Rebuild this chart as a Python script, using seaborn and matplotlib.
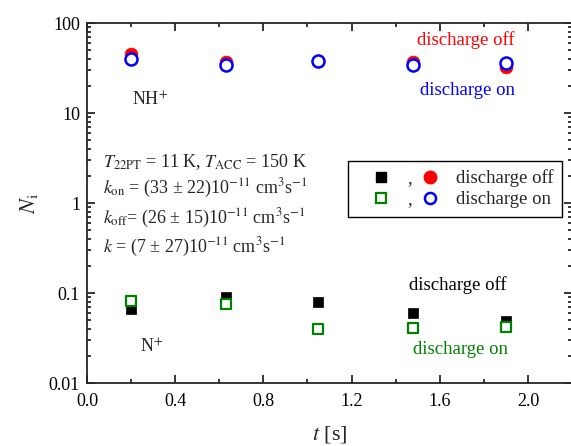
#!/usr/bin/env python3
# coding=utf-8
import matplotlib
matplotlib.use('Agg')
import matplotlib.pyplot as plt
import matplotlib.ticker as ticker
import numpy as np
import pandas as pd
import seaborn as sns

# storage times [s]
t = [0.2, 0.63, 1.05, 1.48, 1.9]

# NH+ counts
nh_off = [45.0, 37.0, 37.5, 36.8, 32.7]
nh_on = [39.5, 34.0, 38.0, 34.0, 36.0]

# N+ counts
n_off = [0.066, 0.091, 0.080, 0.060, 0.049]
n_on = [0.082, 0.075, 0.040, 0.041, 0.042]

x_ticks = [0.0, 0.4, 0.8, 1.2, 1.6, 2.0]
y_ticks = [0.01, 0.1, 1, 10, 100]
y_ticklabels = ['0.01', '0.1', '1', '10', '100']

info_lines = [
    r'$T_{\rm 22PT}$ = 11 K, $T_{\rm ACC}$ = 150 K',
    r'$k_{\rm on}$ = (33 ± 22)10$^{-11}$ cm$^{3}$s$^{-1}$',
    r'$k_{\rm off}$= (26 ± 15)10$^{-11}$ cm$^{3}$s$^{-1}$',
    r'$k$ = (7 ± 27)10$^{-11}$ cm$^{3}$s$^{-1}$',
]
info_y = [162, 188, 218, 247]


def make_plot(outfile):
    sns.set_style('ticks')
    plt.rcParams['font.family'] = ['Liberation Serif', 'DejaVu Serif']
    plt.rcParams['mathtext.fontset'] = 'stix'
    plt.rcParams['axes.linewidth'] = 1.3

    df = pd.DataFrame({'t': t, 'nh_off': nh_off, 'nh_on': nh_on,
                       'n_off': n_off, 'n_on': n_on})

    fig = plt.figure(figsize=(5.71, 4.46), dpi=100)
    ax = fig.add_axes([87 / 571, 63 / 446, 485 / 571, 360 / 446])

    sns.scatterplot(data=df, x='t', y='n_off', ax=ax, marker='s', s=60,
                    color='black', edgecolor='black', linewidth=0.5, zorder=3)
    sns.scatterplot(data=df, x='t', y='n_on', ax=ax, marker='s', s=50,
                    facecolor='white', edgecolor='green', linewidth=1.6, zorder=4)
    sns.scatterplot(data=df, x='t', y='nh_off', ax=ax, marker='o', s=85,
                    color='red', edgecolor='red', linewidth=0.5, zorder=3)
    sns.scatterplot(data=df, x='t', y='nh_on', ax=ax, marker='o', s=75,
                    facecolor='white', edgecolor='blue', linewidth=1.8, zorder=4)

    ax.set_yscale('log')
    ax.set_xlim(0, 2.2)
    ax.set_ylim(0.01, 100)
    ax.set_xticks(x_ticks)
    ax.set_xticklabels(['%.1f' % v for v in x_ticks])
    ax.xaxis.set_minor_locator(ticker.MultipleLocator(0.2))
    ax.set_yticks(y_ticks)
    ax.set_yticklabels(y_ticklabels)
    ax.yaxis.set_minor_locator(ticker.LogLocator(base=10, subs=np.arange(2, 10)))
    ax.yaxis.set_minor_formatter(ticker.NullFormatter())
    ax.tick_params(which='both', direction='in', top=True, right=True,
                   labelsize=13, width=1.1, colors='black')
    ax.tick_params(which='major', length=6)
    ax.tick_params(which='minor', length=3)
    ax.tick_params(axis='x', which='major', pad=7)
    ax.tick_params(axis='y', which='major', pad=5)

    ax.set_xlabel(r'$t$ [s]', fontsize=16, labelpad=10)
    ax.set_ylabel(r'$N_{\rm i}$', fontsize=16, labelpad=6)

    # species and condition labels
    ax.text(0.205, 14, r'NH$^{+}$', fontsize=13, ha='left', va='center')
    ax.text(0.24, 0.025, r'N$^{+}$', fontsize=13, ha='left', va='center')
    ax.text(1.72, 65, 'discharge off', color='red', fontsize=13.5, ha='center', va='center')
    ax.text(1.725, 18, 'discharge on', color='blue', fontsize=13.5, ha='center', va='center')
    ax.text(1.68, 0.123, 'discharge off', color='black', fontsize=13.5, ha='center', va='center')
    ax.text(1.695, 0.0235, 'discharge on', color='green', fontsize=13.5, ha='center', va='center')

    for line, yp in zip(info_lines, info_y):
        ax.text(16 / 485, (383 - yp) / 360, line,
                transform=ax.transAxes, fontsize=13, ha='left', va='center')

    sq_off = plt.Line2D([], [], ls='', marker='s', ms=7.5, mfc='black', mec='black')
    sq_on = plt.Line2D([], [], ls='', marker='s', ms=6.5, mfc='white', mec='green', mew=1.6)
    c_off = plt.Line2D([], [], ls='', marker='o', ms=9, mfc='red', mec='red')
    c_on = plt.Line2D([], [], ls='', marker='o', ms=8, mfc='white', mec='blue', mew=1.8)
    leg = ax.legend([sq_off, sq_on, c_off, c_on], [',', ',', 'discharge off', 'discharge on'],
                    ncol=2, loc='upper right', bbox_to_anchor=(0.979, 0.617),
                    borderaxespad=0, fontsize=13.5, frameon=True, fancybox=False,
                    edgecolor='black', framealpha=1, handlelength=2.6,
                    handletextpad=0.1, columnspacing=-0.35, labelspacing=0.2,
                    borderpad=0.45)
    leg.get_frame().set_linewidth(1.0)

    fig.savefig(outfile, dpi=100)
    plt.close('all')


if __name__ == '__main__':
    make_plot('out.png')
